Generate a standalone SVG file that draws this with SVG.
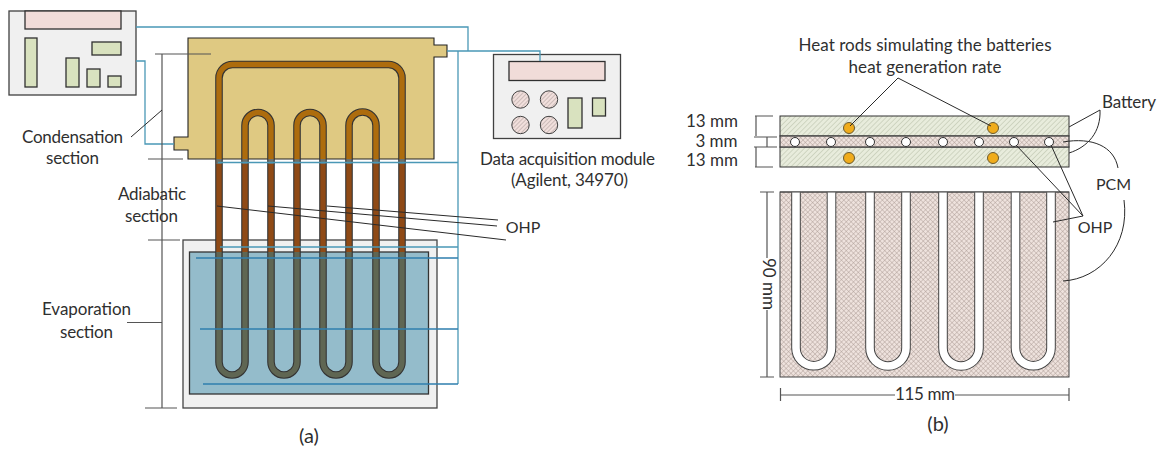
<svg xmlns="http://www.w3.org/2000/svg" width="1165" height="449" viewBox="0 0 1165 449">
<style>
text{font-family:"Lato","Liberation Sans",sans-serif;font-size:17px;fill:#2f2f2f;text-anchor:middle}
.big{font-size:20px}
.sm{font-size:16px}
.box{fill:#f0f0f0;stroke:#404040;stroke-width:1.3}
.pink{fill:#f1dcd9;stroke:#303030;stroke-width:1.3}
.green{fill:#d9e2bf;stroke:#303030;stroke-width:1.3}
.dial{fill:url(#dialHatch);stroke:#404040;stroke-width:1}
.wire{fill:none;stroke:#4a98b6;stroke-width:1.3}
.wireB{fill:none;stroke:#2f7fae;stroke-width:1.3}
.ln{fill:none;stroke:#2a2a2a;stroke-width:1}
.dim{fill:none;stroke:#555;stroke-width:1.2}
.tube{fill:none;stroke:#333;stroke-width:7.6}
.rod{fill:#f0ac1c;stroke:#6a5a30;stroke-width:1}
.hole{fill:#fff;stroke:#333;stroke-width:1}
.uo{fill:none;stroke:#444;stroke-width:9.6}
.ui{fill:none;stroke:#fff;stroke-width:7.6}
</style>
<defs>
<pattern id="dialHatch" width="3" height="3" patternUnits="userSpaceOnUse" patternTransform="rotate(-45)"><rect width="3" height="3" fill="#f1dfdc"/><line x1="0" y1="0" x2="3" y2="0" stroke="#a89a96" stroke-width="1"/></pattern>
<pattern id="green" width="3.6" height="3.6" patternUnits="userSpaceOnUse" patternTransform="rotate(-45)"><rect width="3.6" height="3.6" fill="#e8ecdc"/><line x1="0" y1="0" x2="3.6" y2="0" stroke="#b0b8a0" stroke-width="0.9"/></pattern>
<pattern id="cross" width="3.4" height="3.4" patternUnits="userSpaceOnUse" patternTransform="rotate(45)"><rect width="3.4" height="3.4" fill="#eee2dd"/><path d="M0 0H3.400M0 0V3.400" stroke="#a5958f" stroke-width="0.8"/></pattern>
<clipPath id="cCond"><rect x="200" y="50" width="220" height="109"/></clipPath>
<clipPath id="cJoint"><rect x="200" y="159" width="220" height="5"/></clipPath>
<clipPath id="cAdia"><rect x="200" y="164" width="220" height="88"/></clipPath>
<clipPath id="cEvap"><rect x="200" y="252" width="220" height="140"/></clipPath>
<path id="tubePath" d="M219 362V78A13.500 13.500 0 0 1 232.500 64.500H388.500A13.500 13.500 0 0 1 402 78V362A13 13 0 0 1 376 362V125.500A13.500 13.500 0 0 0 349 125.500V362A13 13 0 0 1 323 362V125.500A13 13 0 0 0 297 125.500V362A13 13 0 0 1 271 362V125.500A13 13 0 0 0 245 125.500V362A13 13 0 0 1 219 362Z"/>
</defs>

<g id="daq-left">
<rect class="box" x="9" y="11" width="127" height="84"/>
<rect class="pink" x="25" y="11" width="96" height="18"/>
<rect class="green" x="25" y="38" width="12" height="49"/>
<rect class="green" x="66" y="58" width="13" height="29"/>
<rect class="green" x="87" y="69" width="13" height="18"/>
<rect class="green" x="108" y="76" width="13" height="11"/>
<rect class="green" x="92" y="42" width="29" height="13"/>
</g>
<g id="tank">
<rect x="183" y="240" width="254" height="168" fill="#f0f0f0" stroke="#444" stroke-width="1.3"/>
<rect x="189.500" y="252" width="239" height="142" fill="#94bccb" stroke="#333" stroke-width="1.3"/>
</g>
<g id="condenser">
<path d="M188 38H434V45H447V57H434V159H188V150H174V137H188Z" fill="#dfc982" stroke="#222" stroke-width="1.1"/>
</g>
<g id="ohp-tube">
<use href="#tubePath" class="tube"/>
<use href="#tubePath" fill="none" stroke="#ad6c0d" stroke-width="5.4" clip-path="url(#cCond)"/>
<use href="#tubePath" fill="none" stroke="#6f7068" stroke-width="5.4" clip-path="url(#cJoint)"/>
<use href="#tubePath" fill="none" stroke="#8f4a16" stroke-width="5.4" clip-path="url(#cAdia)"/>
<use href="#tubePath" fill="none" stroke="#5f6653" stroke-width="5.4" clip-path="url(#cEvap)"/>
</g>
<g id="daq-right">
<rect class="box" x="493.500" y="54.500" width="127" height="84"/>
<rect class="pink" x="509" y="61.500" width="96" height="19"/>
<circle class="dial" cx="520.500" cy="99.500" r="8.700"/>
<circle class="dial" cx="549" cy="99.500" r="8.700"/>
<circle class="dial" cx="520.500" cy="125" r="8.700"/>
<circle class="dial" cx="549" cy="125" r="8.700"/>
<rect class="green" x="568" y="98" width="14" height="30"/>
<rect class="green" x="592.500" y="98" width="13" height="18"/>
</g>
<g id="battery-section">
<rect x="780" y="116" width="289" height="20" fill="url(#green)" stroke="#333" stroke-width="1"/>
<rect x="780" y="147" width="289" height="20" fill="url(#green)" stroke="#333" stroke-width="1"/>
<rect x="780" y="136" width="289" height="11" fill="url(#cross)" stroke="#444" stroke-width="1.3"/>
<circle class="hole" cx="795" cy="142" r="4.500"/>
<circle class="hole" cx="831" cy="142" r="4.500"/>
<circle class="hole" cx="870" cy="142" r="4.500"/>
<circle class="hole" cx="906" cy="142" r="4.500"/>
<circle class="hole" cx="943" cy="142" r="4.500"/>
<circle class="hole" cx="979" cy="142" r="4.500"/>
<circle class="hole" cx="1014" cy="142" r="4.500"/>
<circle class="hole" cx="1049" cy="142" r="4.500"/>
<circle class="rod" cx="849" cy="128" r="5.500"/>
<circle class="rod" cx="993" cy="128" r="5.500"/>
<circle class="rod" cx="849" cy="158" r="5.500"/>
<circle class="rod" cx="993" cy="158" r="5.500"/>
</g>
<g id="pcm-plate">
<rect x="780" y="192" width="289" height="185" fill="url(#cross)" stroke="#444" stroke-width="1"/>
<path class="uo" d="M796 192.500V348A17.750 17.750 0 0 0 831.500 348V192.500M870 192.500V348A18 18 0 0 0 906 348V192.500M943 192.500V348A18 18 0 0 0 979 348V192.500M1015.500 192.500V348A17.750 17.750 0 0 0 1051 348V192.500"/>
<path class="ui" d="M796 192V348A17.750 17.750 0 0 0 831.500 348V192M870 192V348A18 18 0 0 0 906 348V192M943 192V348A18 18 0 0 0 979 348V192M1015.500 192V348A17.750 17.750 0 0 0 1051 348V192"/>
<path d="M780 192H1069" stroke="#444" stroke-width="1"/>
</g>
<g id="connectors">
<path class="wire" d="M136 27H468V51M447 51H540V61M458 51V384M136 61H145V144H174M218 162.500H458M220 247H458"/>
<path class="wireB" d="M196 258H458M200 329H458M203 384H458"/>
<path class="dim" d="M162 54V408M155 54H211M148 159H183M148 240H180M145 408H177M127 322.500H162"/>
<path class="ln" d="M131 137L162 110M217 206L506 240M268 206L497 226M327 206L498 220"/>
<path class="ln" d="M898 78L850 126M898 78L991 126M1100 110L1069 127M1100 110C1101 132 1088 147 1069 153M1063 142C1092 137 1114 146 1118 168M1124 200C1130 245 1100 279 1063 281M1083 216L1016 145M1083 216L1051 145M1083 216L1053 222"/>
<path class="dim" d="M756 116V136M767 137V147M756 147V167M755 116H773M754 137H777M754 147H777M755 167H773M767 192V258M767 310V377M760 192H774M760 377H774M780.500 388V401M1069 388V401M780.500 395H895M955 395H1069"/>
</g>
<g id="labels">
<text x="72.500" y="143" textLength="101">Condensation</text>
<text x="72.500" y="164" textLength="53">section</text>
<text x="152" y="200" textLength="68">Adiabatic</text>
<text x="151.500" y="222" textLength="53">section</text>
<text x="86.500" y="315" textLength="89">Evaporation</text>
<text x="86.500" y="338" textLength="53">section</text>
<text class="sm" x="523" y="233">OHP</text>
<text x="567.500" y="165" textLength="175">Data acquisition module</text>
<text x="569.500" y="186" textLength="117">(Agilent, 34970)</text>
<text class="big" x="309" y="443">(a)</text>
<text x="925" y="51" textLength="253">Heat rods simulating the batteries</text>
<text x="925" y="73" textLength="153">heat generation rate</text>
<text x="1129" y="108" textLength="54">Battery</text>
<text x="712" y="127">13 mm</text>
<text x="716.500" y="147">3 mm</text>
<text x="712" y="166">13 mm</text>
<text class="sm" x="1113.500" y="190">PCM</text>
<text class="sm" x="1095" y="233">OHP</text>
<text transform="translate(762.500 284) rotate(90)" x="0" y="0" textLength="52">90 mm</text>
<text x="925" y="400" textLength="60">115 mm</text>
<text class="big" x="938" y="431">(b)</text>
</g>
</svg>
